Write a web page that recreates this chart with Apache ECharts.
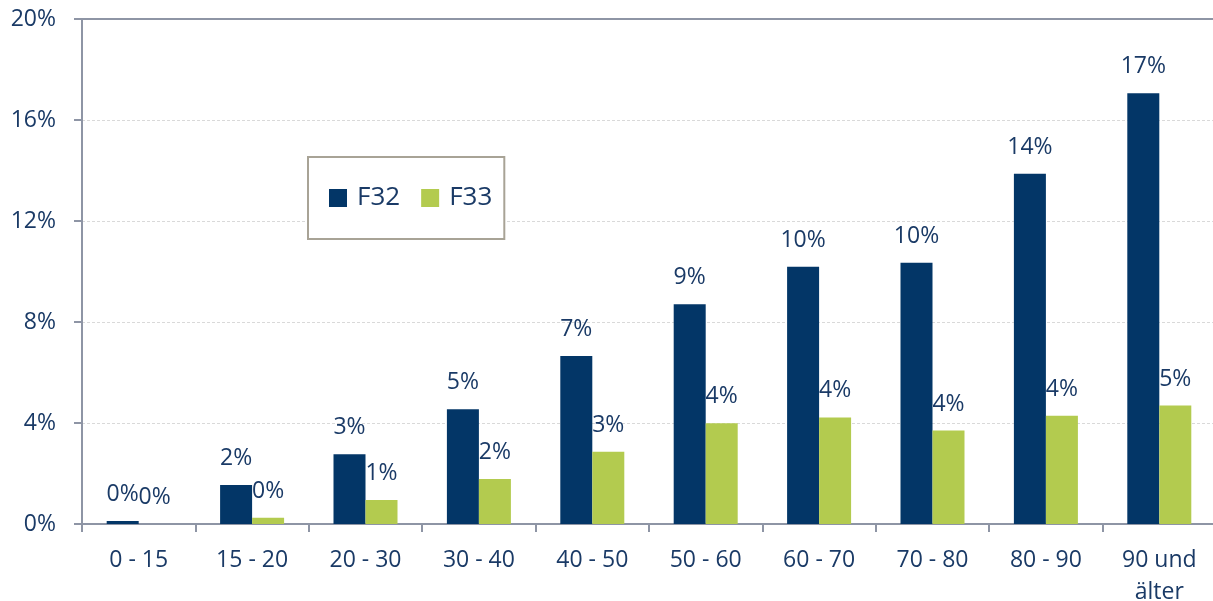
<!DOCTYPE html>
<html>
<head>
<meta charset="utf-8">
<script src="https://cdn.jsdelivr.net/npm/echarts@6/dist/echarts.min.js"></script>
<style>
  html, body { margin: 0; padding: 0; background: #fff; }
  #chart { width: 1213px; height: 601px; }
</style>
</head>
<body>
<div id="chart"></div>
<script>
// age groups and shares in percent
const categories = ["0 - 15", "15 - 20", "20 - 30", "30 - 40", "40 - 50", "50 - 60", "60 - 70", "70 - 80", "80 - 90", "90 und\nälter"];
const f32 = [0.12, 1.54, 2.76, 4.54, 6.65, 8.70, 10.19, 10.35, 13.87, 17.06];
const f33 = [0, 0.25, 0.95, 1.78, 2.86, 3.99, 4.22, 3.70, 4.29, 4.69];
const seriesNames = ["F32", "F33"];

const textColor = "#1A3A66";
const axisColor = "#8E95A5";
const font = "Open Sans";

const chart = echarts.init(document.getElementById("chart"));

function barLabel() {
  return {
    show: true,
    position: "top",
    distance: 15,
    color: textColor,
    fontFamily: font,
    fontSize: 23,
    formatter: function (p) {
      return Math.round(p.value) + "%";
    }
  };
}

chart.setOption({
  animation: false,
  grid: {
    left: 82,
    right: -3,
    top: 19,
    bottom: 77,
    outerBoundsMode: "none"
  },
  legend: {
    left: 308,
    top: 157,
    itemWidth: 18,
    itemHeight: 18,
    itemGap: 21,
    padding: [28, 12, 28, 21],
    borderColor: "#A8A396",
    borderWidth: 2,
    backgroundColor: "#fff",
    icon: "rect",
    textStyle: {
      color: textColor,
      fontFamily: font,
      fontSize: 26,
      padding: [0, 0, 0, 5]
    },
    data: seriesNames
  },
  xAxis: [
    {
      type: "category",
      data: categories,
      axisLine: { lineStyle: { color: axisColor, width: 2 } },
      axisTick: { show: true, length: 8, lineStyle: { color: axisColor, width: 2 } },
      axisLabel: {
        color: textColor,
        fontFamily: font,
        fontSize: 23,
        margin: 20,
        lineHeight: 32,
        interval: 0
      }
    },
    {
      type: "category",
      position: "top",
      data: categories,
      axisLine: { show: true, lineStyle: { color: axisColor, width: 2 } },
      axisTick: { show: false },
      axisLabel: { show: false }
    }
  ],
  yAxis: {
    type: "value",
    min: 0,
    max: 20,
    interval: 4,
    axisLine: { show: true, lineStyle: { color: axisColor, width: 2 } },
    axisTick: { show: true, length: 8, lineStyle: { color: axisColor, width: 2 } },
    axisLabel: {
      color: textColor,
      fontFamily: font,
      fontSize: 23,
      margin: 26,
      formatter: "{value}%"
    },
    splitLine: {
      show: true,
      lineStyle: { color: "#D9D9D9", type: [3, 2], width: 1 }
    }
  },
  series: [
    {
      name: seriesNames[0],
      type: "bar",
      data: f32,
      barWidth: 32,
      barGap: "0%",
      itemStyle: { color: "#033667" },
      label: barLabel()
    },
    {
      name: seriesNames[1],
      type: "bar",
      data: f33,
      barWidth: 32,
      barGap: "0%",
      itemStyle: { color: "#B3CB4F" },
      label: barLabel()
    }
  ]
});
</script>
</body>
</html>
